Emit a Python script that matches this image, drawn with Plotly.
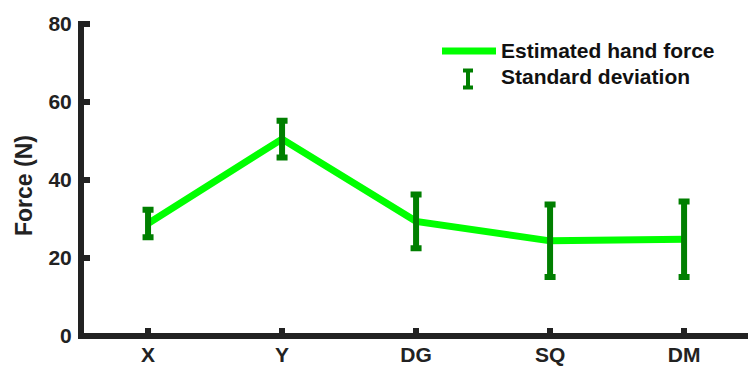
import plotly.graph_objects as go

categories = ["X", "Y", "DG", "SQ", "DM"]
force_mean = [28.85, 50.5, 29.4, 24.4, 24.8]
force_std = [3.5, 4.7, 6.9, 9.3, 9.7]
y_ticks = [0, 20, 40, 60, 80]

LINE_COLOR = "#00ff00"
ERR_COLOR = "#007f00"
AXIS_COLOR = "#222222"
FONT = "Liberation Sans, Arial, sans-serif"

W, H = 748, 367
ML, MR, MT, MB = 84, 0, 21, 28
PW = W - ML - MR
PH = H - MT - MB

fig = go.Figure()
fig.add_trace(go.Scatter(
    x=categories, y=force_mean, mode="lines",
    line=dict(color=LINE_COLOR, width=7),
    showlegend=False, hoverinfo="skip",
))
fig.add_trace(go.Scatter(
    x=categories, y=force_mean, mode="markers",
    marker=dict(size=1, color="rgba(0,0,0,0)"),
    error_y=dict(type="data", array=force_std, visible=True,
                 color=ERR_COLOR, thickness=6, width=5.5),
    showlegend=False, hoverinfo="skip",
))

def px_x(p):
    return (p - ML) / PW

def px_y(p):
    return 1 - (p - MT) / PH

shapes = [
    dict(type="line", xref="paper", yref="paper",
         x0=px_x(442), x1=px_x(496), y0=px_y(51), y1=px_y(51),
         line=dict(color=LINE_COLOR, width=7)),
    dict(type="line", xref="paper", yref="paper",
         x0=px_x(468), x1=px_x(468), y0=px_y(69), y1=px_y(89),
         line=dict(color=ERR_COLOR, width=4)),
    dict(type="line", xref="paper", yref="paper",
         x0=px_x(463), x1=px_x(473), y0=px_y(70.5), y1=px_y(70.5),
         line=dict(color=ERR_COLOR, width=4)),
    dict(type="line", xref="paper", yref="paper",
         x0=px_x(463), x1=px_x(473), y0=px_y(87.5), y1=px_y(87.5),
         line=dict(color=ERR_COLOR, width=4)),
]
annotations = [
    dict(text="<b>Estimated hand force</b>", xref="paper", yref="paper",
         x=px_x(499), y=px_y(51), xanchor="left", yanchor="middle",
         showarrow=False, font=dict(family=FONT, size=21, color="#111111")),
    dict(text="<b>Standard deviation</b>", xref="paper", yref="paper",
         x=px_x(499), y=px_y(77), xanchor="left", yanchor="middle",
         showarrow=False, font=dict(family=FONT, size=21, color="#111111")),
    dict(text="<b>Force (N)</b>", xref="paper", yref="paper",
         x=px_x(24), y=px_y(186), xanchor="center", yanchor="middle",
         textangle=-90, showarrow=False,
         font=dict(family=FONT, size=23, color=AXIS_COLOR)),
]

fig.update_layout(
    width=W, height=H,
    margin=dict(l=ML, r=MR, t=MT, b=MB, pad=0),
    plot_bgcolor="white", paper_bgcolor="white",
    shapes=shapes, annotations=annotations,
    showlegend=False,
    font=dict(family=FONT, size=21, color=AXIS_COLOR),
)
fig.update_xaxes(
    range=[-0.478, 4.477], showgrid=False, zeroline=False, automargin=False,
    showline=False,
    ticks="inside", ticklen=11, tickwidth=6, tickcolor=AXIS_COLOR,
    ticklabelstandoff=1,
    tickfont=dict(family=FONT, size=21, color=AXIS_COLOR, weight="bold"),
)
fig.update_yaxes(
    range=[-0.77, 80.77], tickvals=y_ticks, showgrid=False, automargin=False,
    zeroline=True, zerolinewidth=6, zerolinecolor=AXIS_COLOR,
    showline=True, linecolor=AXIS_COLOR, linewidth=6,
    ticks="inside", ticklen=6, tickwidth=6, tickcolor=AXIS_COLOR,
    ticklabelstandoff=2,
    tickfont=dict(family=FONT, size=21, color=AXIS_COLOR, weight="bold"),
)

fig.write_html(
    "out.html",
    config={"displayModeBar": False},
    post_script="document.body.style.margin='0';document.body.style.padding='0';document.body.style.overflow='hidden';",
)
